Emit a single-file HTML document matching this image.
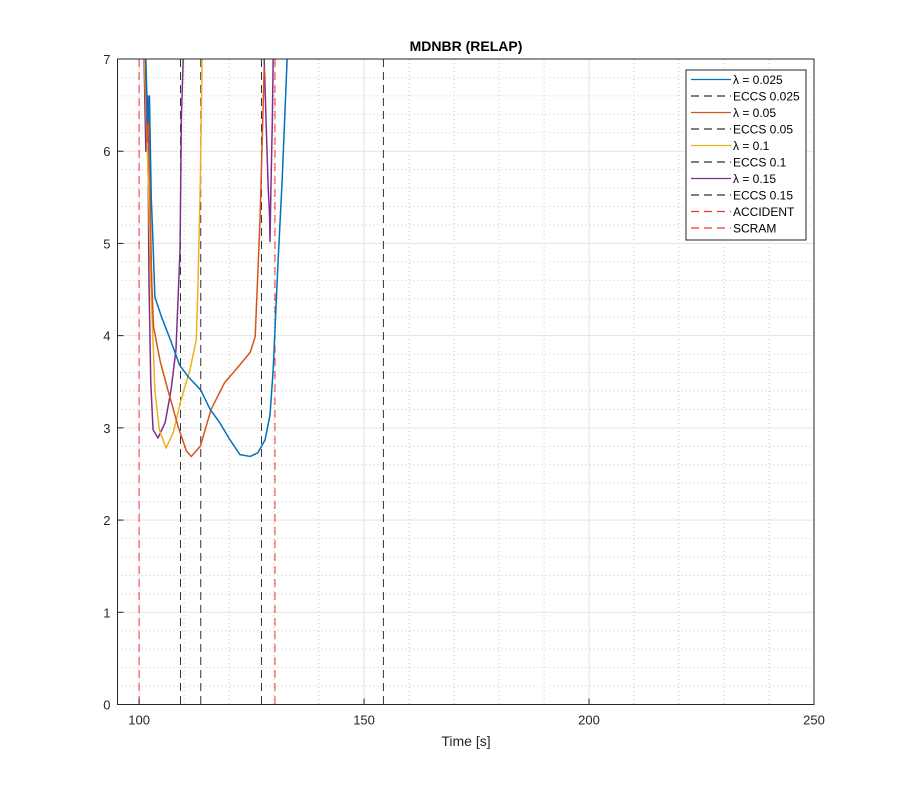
<!DOCTYPE html>
<html><head><meta charset="utf-8"><style>
body{margin:0;background:#fff;}
svg{display:block;font-family:"Liberation Sans",sans-serif;}
</style></head><body>
<svg id="chart" width="900" height="792"></svg>
<script>
const xTicks=[100,150,200,250];
const yTicks=[0,1,2,3,4,5,6,7];
const eccsTimes=[109.2,113.7,127.2,154.3];
const accidentTime=100;
const scramTime=130.2;
const blueT=[101.5,101.9,102.3,102.7,103.1,103.5,105,107,109,111,113.7,115.8,118,120.2,122.4,124.7,126.4,128,129.1,129.8,130.9,131.8,132.9];
const blueV=[7,6.3,6.6,5.5,5.0,4.42,4.2,3.95,3.68,3.55,3.41,3.2,3.05,2.87,2.71,2.69,2.73,2.87,3.14,3.63,4.82,5.69,7];
const orangeT=[101.4,101.8,102.2,102.5,102.8,103.2,104.7,106.4,108.7,110.5,111.6,113.6,116,119,122,124.7,125.8,126.3,126.9,127.3,127.8];
const orangeV=[7,6.1,6.5,5.3,4.6,4.1,3.72,3.41,3.01,2.75,2.69,2.8,3.2,3.49,3.66,3.82,3.99,4.57,5.29,6.01,6.91];
const yellowT=[101.2,101.7,102.1,102.6,103.5,104.5,106,107.6,109.3,111.3,112.7,113.1,113.6,114];
const yellowV=[7,6.2,5.6,4.57,3.41,2.98,2.78,2.95,3.30,3.63,3.95,4.57,5.66,6.99];
const purpleT=[101.1,101.5,101.9,102.2,102.6,103.1,104.2,105.8,107.1,108.2,109.1,109.4,109.8];
const purpleV=[7,6.0,6.6,4.57,3.49,2.98,2.89,3.06,3.41,3.85,4.93,6.37,7];
const purple2T=[127.8,128.3,128.7,129.0,129.1,129.3,129.6,129.8];
const purple2V=[7,6.2,5.6,5.3,5.02,5.6,6.3,7];
const legendLabels=["λ = 0.025","ECCS 0.025","λ = 0.05","ECCS 0.05","λ = 0.1","ECCS 0.1","λ = 0.15","ECCS 0.15","ACCIDENT","SCRAM"];

const L=117.5,R=814,T=59,B=704.5,XMIN=95.2,XMAX=250,YMIN=0,YMAX=7;
const sx=v=>L+(v-XMIN)/(XMAX-XMIN)*(R-L);
const sy=v=>B-(v-YMIN)/(YMAX-YMIN)*(B-T);
const svg=document.getElementById('chart');
const NS='http://www.w3.org/2000/svg';
function mk(tag,attrs,parent){const e=document.createElementNS(NS,tag);for(const k in attrs)e.setAttribute(k,attrs[k]);(parent||svg).appendChild(e);return e;}

let e=mk('rect',{x:L,y:T,width:R-L,height:B-T,fill:'#fff'});


const grid=mk('g',{});


for(let v=100;v<250;v+=10){if(v%50===0)continue;mk('line',{x1:sx(v),x2:sx(v),y1:T,y2:B,stroke:'#c8c8c8','stroke-width':1,'stroke-dasharray':'1,3'},grid);}
for(let v=0.2;v<7;v+=0.2){if(Math.abs(v-Math.round(v))<0.01)continue;mk('line',{x1:L,x2:R,y1:sy(v),y2:sy(v),stroke:'#c8c8c8','stroke-width':1,'stroke-dasharray':'1,3'},grid);}
xTicks.forEach(v=>mk('line',{x1:sx(v),x2:sx(v),y1:T,y2:B,stroke:'#e3e3e3','stroke-width':1},grid));
yTicks.forEach(v=>mk('line',{x1:L,x2:R,y1:sy(v),y2:sy(v),stroke:'#e3e3e3','stroke-width':1},grid));

function vline(t,color,name){const l=mk('line',{x1:sx(t),x2:sx(t),y1:T,y2:B,stroke:color,'stroke-width':1,'stroke-dasharray':'8,5'});

}
vline(accidentTime,'#ff3030','accident-line');
eccsTimes.forEach((t,i)=>vline(t,'#333','eccs-line-'+i));
vline(scramTime,'#ff3030','scram-line');

function series(ts,vs,color,name){const p=mk('polyline',{points:ts.map((t,i)=>sx(t)+','+sy(vs[i])).join(' '),fill:'none',stroke:color,'stroke-width':1.5,'stroke-linejoin':'round'});

}
series(purpleT,purpleV,'#7e2f8e','series-lambda-0.15');
series(purple2T,purple2V,'#7e2f8e','series-lambda-0.15-b');
series(yellowT,yellowV,'#edb120','series-lambda-0.1');
series(orangeT,orangeV,'#d95319','series-lambda-0.05');
series(blueT,blueV,'#0072bd','series-lambda-0.025');

mk('rect',{x:L,y:T,width:R-L,height:B-T,fill:'none',stroke:'#262626','stroke-width':1});
xTicks.forEach(v=>{mk('line',{x1:sx(v),x2:sx(v),y1:B,y2:B-6,stroke:'#262626'});
const t=mk('text',{x:sx(v),y:B+20,'text-anchor':'middle','font-size':13,fill:'#262626'});t.textContent=v;

});
yTicks.forEach(v=>{mk('line',{x1:L,x2:L+6,y1:sy(v),y2:sy(v),stroke:'#262626'});
const t=mk('text',{x:L-7,y:sy(v)+5,'text-anchor':'end','font-size':13,fill:'#262626'});t.textContent=v;

});
let tt=mk('text',{x:466,y:51,'text-anchor':'middle','font-size':14,'font-weight':'bold',fill:'#000'});tt.textContent='MDNBR (RELAP)';


tt=mk('text',{x:466,y:746,'text-anchor':'middle','font-size':14,fill:'#262626'});tt.textContent='Time [s]';



const lg=mk('g',{});


mk('rect',{x:686,y:70,width:120,height:170,fill:'#fff',stroke:'#262626','stroke-width':1},lg);
const lcol=['#0072bd','#333','#d95319','#333','#edb120','#333','#7e2f8e','#333','#ff3030','#ff3030'];
legendLabels.forEach((s,i)=>{const y=79.5+i*16.5;const g=mk('g',{},lg);


const at={x1:691,x2:731,y1:y,y2:y,stroke:lcol[i],'stroke-width':1.2};
if(i%2===1||i>=8)at['stroke-dasharray']='8,5';
mk('line',at,g);
const t=mk('text',{x:733,y:y+4.5,'font-size':12,fill:'#000'},g);t.textContent=s;});
</script>
</body></html>
